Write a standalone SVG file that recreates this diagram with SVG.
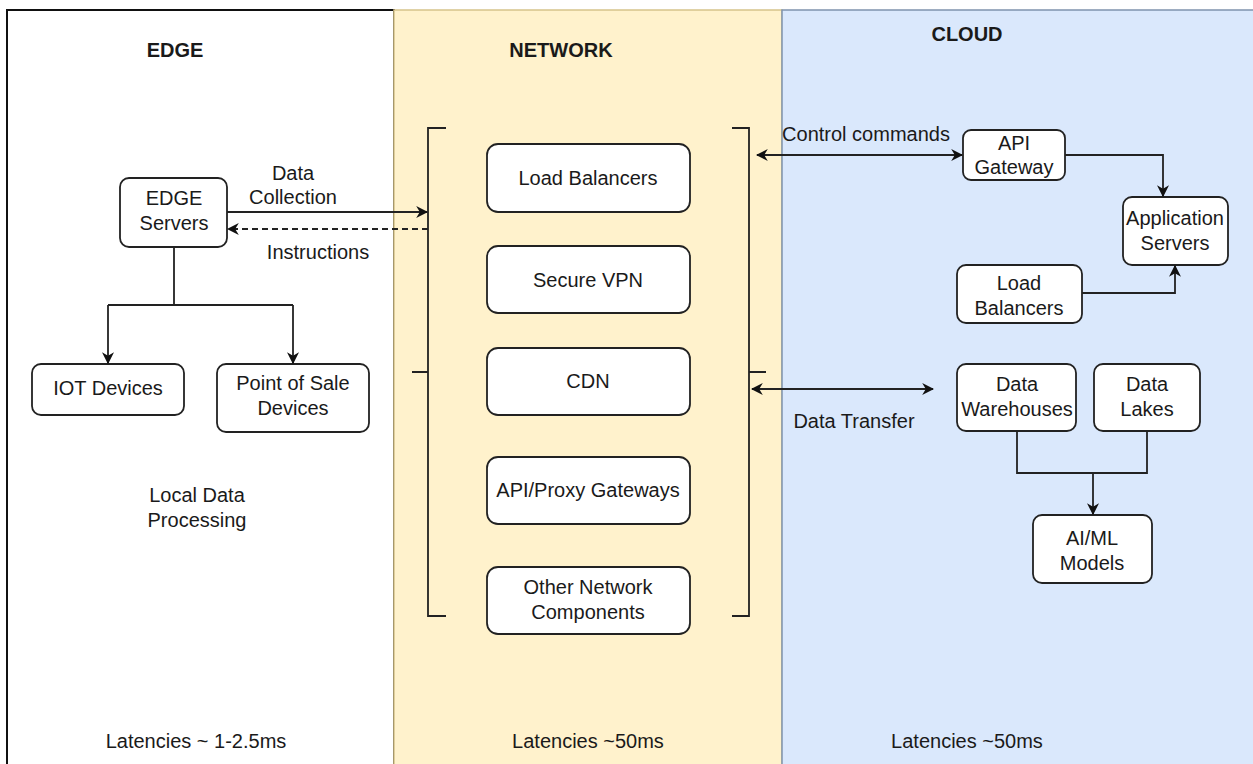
<svg xmlns="http://www.w3.org/2000/svg" width="1253" height="764" viewBox="0 0 1253 764">
<style>
text{font-family:"Liberation Sans",Arial,sans-serif;font-size:20px;fill:#1a1a1a;text-anchor:middle}
.title{font-weight:bold}
.box{fill:#fff;stroke:#222;stroke-width:1.8}
.line{fill:none;stroke:#222;stroke-width:1.8}
</style>
<defs>
<marker id="arr" viewBox="0 0 10 10" refX="9" refY="5" markerWidth="12" markerHeight="12" markerUnits="userSpaceOnUse" orient="auto-start-reverse">
<path d="M0,0 L10,5 L0,10 L3,5 z" fill="#111"/>
</marker>
</defs>
<rect width="1253" height="764" fill="#fff"/>
<g id="panel-edge">
<rect x="7" y="10" width="387" height="770" fill="#fff" stroke="#111" stroke-width="2"/>
<text class="title" x="175" y="57">EDGE</text>
<text x="197" y="502">Local Data</text>
<text x="197" y="527">Processing</text>
<text x="196" y="748">Latencies ~ 1-2.5ms</text>
</g>
<g id="panel-network">
<rect x="394" y="10" width="388" height="770" fill="#fff2cc" stroke="#d6c48a" stroke-width="1.5"/>
<text class="title" x="561" y="57">NETWORK</text>
<text x="588" y="748">Latencies ~50ms</text>
</g>
<g id="panel-cloud">
<rect x="782" y="10" width="480" height="770" fill="#dae8fc" stroke="#7f93ad" stroke-width="1.5"/>
<text class="title" x="967" y="41">CLOUD</text>
<text x="967" y="748">Latencies ~50ms</text>
</g>
<g id="brackets">
<path class="line" d="M446,128 H428 V616 H446 M428,372 H412"/>
<path class="line" d="M732,128 H749 V616 H732 M749,372 H766"/>
</g>
<g id="node-edge-servers">
<rect class="box" x="120" y="178" width="107" height="69" rx="9"/>
<text x="174" y="205">EDGE</text>
<text x="174" y="230">Servers</text>
</g>
<g id="node-iot">
<rect class="box" x="32" y="364" width="152" height="51" rx="9"/>
<text x="108" y="395">IOT Devices</text>
</g>
<g id="node-pos">
<rect class="box" x="217" y="364" width="152" height="68" rx="9"/>
<text x="293" y="390">Point of Sale</text>
<text x="293" y="415">Devices</text>
</g>
<g id="node-net-lb">
<rect class="box" x="487" y="144" width="203" height="68" rx="11"/>
<text x="588" y="185">Load Balancers</text>
</g>
<g id="node-vpn">
<rect class="box" x="487" y="246" width="203" height="67" rx="11"/>
<text x="588" y="287">Secure VPN</text>
</g>
<g id="node-cdn">
<rect class="box" x="487" y="348" width="203" height="67" rx="11"/>
<text x="588" y="388">CDN</text>
</g>
<g id="node-apiproxy">
<rect class="box" x="487" y="457" width="203" height="67" rx="11"/>
<text x="588" y="497">API/Proxy Gateways</text>
</g>
<g id="node-other">
<rect class="box" x="487" y="567" width="203" height="67" rx="11"/>
<text x="588" y="594">Other Network</text>
<text x="588" y="619">Components</text>
</g>
<g id="node-api-gateway">
<rect class="box" x="963" y="130" width="102" height="50" rx="8"/>
<text x="1014" y="150">API</text>
<text x="1014" y="174">Gateway</text>
</g>
<g id="node-app-servers">
<rect class="box" x="1123" y="197" width="105" height="68" rx="9"/>
<text x="1175" y="225">Application</text>
<text x="1175" y="250">Servers</text>
</g>
<g id="node-cloud-lb">
<rect class="box" x="957" y="265" width="125" height="58" rx="9"/>
<text x="1019" y="290">Load</text>
<text x="1019" y="315">Balancers</text>
</g>
<g id="node-dw">
<rect class="box" x="957" y="364" width="119" height="67" rx="9"/>
<text x="1017" y="391">Data</text>
<text x="1017" y="416">Warehouses</text>
</g>
<g id="node-dl">
<rect class="box" x="1094" y="364" width="106" height="67" rx="9"/>
<text x="1147" y="391">Data</text>
<text x="1147" y="416">Lakes</text>
</g>
<g id="node-aiml">
<rect class="box" x="1033" y="515" width="119" height="68" rx="9"/>
<text x="1092" y="545">AI/ML</text>
<text x="1092" y="570">Models</text>
</g>
<g id="connectors">
<path class="line" d="M227,212 H427" marker-end="url(#arr)"/>
<path class="line" d="M428,229 H228" stroke-dasharray="6,4" marker-end="url(#arr)"/>
<path class="line" d="M174,247 V305 M108,305 H293"/>
<path class="line" d="M108,305 V363" marker-end="url(#arr)"/>
<path class="line" d="M293,305 V363" marker-end="url(#arr)"/>
<path class="line" d="M757,155 H962" marker-start="url(#arr)" marker-end="url(#arr)"/>
<path class="line" d="M1065,155 H1163 V196" marker-end="url(#arr)"/>
<path class="line" d="M1082,293 H1175 V266" marker-end="url(#arr)"/>
<path class="line" d="M752,389 H933" marker-start="url(#arr)" marker-end="url(#arr)"/>
<path class="line" d="M1017,431 V473 H1147 V431"/>
<path class="line" d="M1093,473 V514" marker-end="url(#arr)"/>
</g>
<g id="labels">
<text x="293" y="180">Data</text>
<text x="293" y="204">Collection</text>
<text x="318" y="259">Instructions</text>
<text x="866" y="141">Control commands</text>
<text x="854" y="428">Data Transfer</text>
</g>
</svg>
